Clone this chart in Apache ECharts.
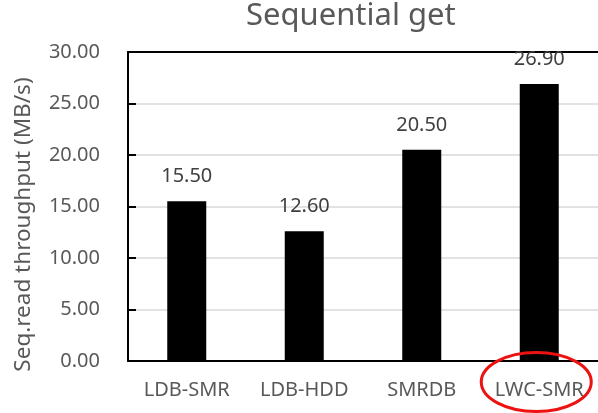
<!DOCTYPE html>
<html>
<head>
<meta charset="utf-8">
<script src="https://cdn.jsdelivr.net/npm/echarts@6/dist/echarts.min.js"></script>
<style>
  html, body { margin: 0; padding: 0; background: #fff; }
  #chart { width: 598px; height: 413px; }
</style>
</head>
<body>
<div id="chart"></div>
<script>
// Sequential read throughput per store
const categories = ['LDB-SMR', 'LDB-HDD', 'SMRDB', 'LWC-SMR'];
const throughput = [15.5, 12.6, 20.5, 26.9];
const yTicks = [0, 5, 10, 15, 20, 25, 30];
const highlighted = 'LWC-SMR';

const FONT = '"Noto Sans", sans-serif';
const chart = echarts.init(document.getElementById('chart'), null, { renderer: 'canvas' });

const option = {
  animation: false,
  backgroundColor: '#ffffff',
  title: {
    text: 'Sequential get',
    left: 241,
    top: -4,
    textStyle: { fontFamily: FONT, fontSize: 31, fontWeight: 'normal', color: '#595959' }
  },
  grid: { left: 128, right: -5, top: 52, bottom: 52, containLabel: false },
  xAxis: [
    {
      type: 'category',
      data: categories,
      axisLine: { show: true, lineStyle: { color: '#000', width: 2 } },
      axisTick: { show: false },
      axisLabel: { fontFamily: FONT, fontSize: 20, color: '#595959', margin: 19 }
    },
    {
      // frame line along the top of the plot
      type: 'category',
      data: categories,
      position: 'top',
      axisLine: { show: true, lineStyle: { color: '#000', width: 2 } },
      axisTick: { show: false },
      axisLabel: { show: false }
    }
  ],
  yAxis: {
    type: 'value',
    min: yTicks[0],
    max: yTicks[yTicks.length - 1],
    interval: yTicks[1] - yTicks[0],
    name: 'Seq.read throughput (MB/s)',
    nameLocation: 'middle',
    nameGap: 93,
    nameTextStyle: { fontFamily: FONT, fontSize: 22.5, color: '#595959', padding: [0, 36, 0, 0] },
    axisLine: { show: true, lineStyle: { color: '#000', width: 2 } },
    axisTick: { show: true, inside: true, length: 8, lineStyle: { color: '#000', width: 2 } },
    axisLabel: {
      fontFamily: FONT, fontSize: 20, color: '#595959', margin: 28,
      formatter: v => v.toFixed(2)
    },
    splitLine: { show: true, lineStyle: { color: '#d9d9d9', width: 1.5 } }
  },
  series: [
    {
      type: 'bar',
      data: throughput,
      barWidth: 39,
      itemStyle: { color: '#000000' },
      label: {
        show: true,
        position: 'top',
        distance: 15,
        fontFamily: FONT,
        fontSize: 20,
        color: '#404040',
        formatter: p => p.value.toFixed(2)
      }
    }
  ]
};

chart.setOption(option);

// red ring around the highlighted category label
const cx = chart.convertToPixel({ xAxisIndex: 0 }, highlighted);
const baseY = chart.convertToPixel({ yAxisIndex: 0 }, 0);
chart.setOption({
  graphic: [
    {
      type: 'ellipse',
      shape: { cx: cx - 3, cy: baseY + 21, rx: 55, ry: 29.5 },
      style: { fill: 'none', stroke: '#ee1111', lineWidth: 3 },
      z: 100
    }
  ]
});
</script>
</body>
</html>
